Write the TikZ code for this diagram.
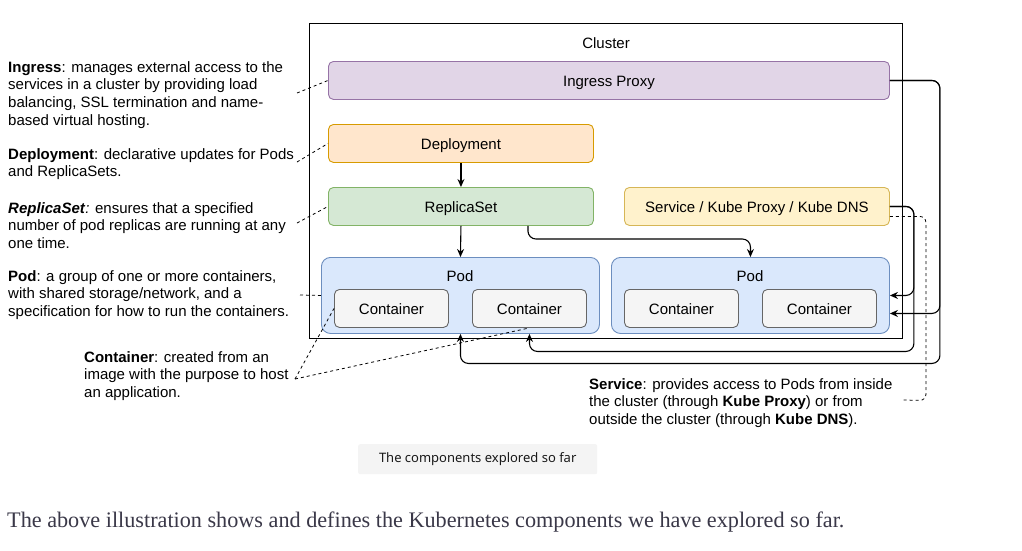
\documentclass[tikz,border=0pt]{standalone}
\usepackage{fontspec}
\setmainfont{Liberation Sans}
\newfontfamily\capfont{Noto Sans}
\newfontfamily\bodyfont{Liberation Serif}
\usetikzlibrary{arrows.meta,calc}
\definecolor{ingF}{HTML}{E1D5E7}\definecolor{ingS}{HTML}{9673A6}
\definecolor{depF}{HTML}{FFE6CC}\definecolor{depS}{HTML}{D79B00}
\definecolor{rsF}{HTML}{D5E8D4}\definecolor{rsS}{HTML}{82B366}
\definecolor{svF}{HTML}{FFF2CC}\definecolor{svS}{HTML}{D6B656}
\definecolor{podF}{HTML}{DAE8FC}\definecolor{podS}{HTML}{6C8EBF}
\definecolor{ctF}{HTML}{F5F5F5}\definecolor{ctS}{HTML}{666666}
\definecolor{capF}{HTML}{F4F4F4}
\definecolor{bodyC}{HTML}{3A3848}
\begin{document}
\begin{tikzpicture}[x=1pt,y=-1pt,
  box/.style={draw, rounded corners=5pt, line width=0.9pt, inner sep=0pt, anchor=north west,
    text height=12pt, text depth=0pt, font=\fontsize{15}{18}\selectfont},
  ctbox/.style={box, fill=ctF, draw=ctS, minimum width=114pt, minimum height=38pt},
  lbl/.style={inner sep=0pt, text height=12pt, text depth=0pt, font=\fontsize{15}{18}\selectfont},
  note/.style={inner sep=0pt, anchor=north west, align=left, font=\fontsize{15}{17.7}\selectfont},
  arr/.style={draw, line width=1.1pt, rounded corners=8pt, -{Stealth[length=8pt,width=7pt]}},
  dsh/.style={draw, line width=0.8pt, dash pattern=on 3pt off 3pt},
]
\useasboundingbox[fill=white] (0,0) rectangle (1022,550);

% cluster
\node[draw, line width=1.1pt, inner sep=0pt, anchor=north west, minimum width=593pt, minimum height=315pt] (cluster) at (309,23) {};
\node[lbl] (clusterlbl) at (606,42) {Cluster};

% boxes
\node[box, fill=ingF, draw=ingS, minimum width=561pt, minimum height=38pt] (ing) at (328,61) {Ingress Proxy};
\node[box, fill=depF, draw=depS, minimum width=265pt, minimum height=38pt] (dep) at (328,124) {Deployment};
\node[box, fill=rsF, draw=rsS, minimum width=265pt, minimum height=38pt] (rs) at (328,187) {ReplicaSet};
\node[box, fill=svF, draw=svS, minimum width=265pt, minimum height=38pt] (svc) at (624,187) {Service / Kube Proxy / Kube DNS};

\node[box, rounded corners=9pt, fill=podF, draw=podS, minimum width=278pt, minimum height=76pt] (pod1) at (321,257) {};
\node[box, rounded corners=9pt, fill=podF, draw=podS, minimum width=278pt, minimum height=76pt] (pod2) at (611,257) {};
\node[lbl] (pod1lbl) at (460,275) {Pod};
\node[lbl] (pod2lbl) at (750,275) {Pod};
\node[ctbox] (c1) at (334,289) {Container};
\node[ctbox] (c2) at (472,289) {Container};
\node[ctbox] (c3) at (624,289) {Container};
\node[ctbox] (c4) at (762,289) {Container};

% arrows
\draw[arr] (dep.south) -- (rs.north);
\draw[arr] (rs.south) -- (pod1.north);
\draw[arr] ([xshift=67pt]rs.south) |- ([yshift=18pt]pod2.north) -- (pod2.north);
\draw[arr] (ing.east) -- ++(50,0) |- ([yshift=-18pt]pod2.east);
\draw[arr] (ing.east) -- ++(50,0) -- ++(0,283) -| (pod1.south);
\draw[arr] (svc.east) -- ++(24,0) |- (pod2.east);
\draw[arr] (svc.east) -- ++(24,0) -- ++(0,145) -| ([xshift=69pt]pod1.south);

% notes
\node[note] (ingtxt) at (8,61) {\textbf{Ingress}: manages external access to the\\services in a cluster by providing load\\balancing, SSL termination and name-\\based virtual hosting.};
\node[note] (deptxt) at (8,148) {\textbf{Deployment}: declarative updates for Pods\\and ReplicaSets.};
\node[note] (rstxt) at (8,202) {\textbf{\textit{ReplicaSet}}\textit{:} ensures that a specified\\number of pod replicas are running at any\\one time.};
\node[note] (podtxt) at (8,270) {\textbf{Pod}: a group of one or more containers,\\with shared storage/network, and a\\specification for how to run the containers.};
\node[note] (cttxt) at (84,351) {\textbf{Container}: created from an\\image with the purpose to host\\an application.};
\node[note] (svtxt) at (589,378) {\textbf{Service}: provides access to Pods from inside\\the cluster (through \textbf{Kube Proxy}) or from\\outside the cluster (through \textbf{Kube DNS}).};

% dashed annotation lines
\coordinate (ingE) at (297,93);
\coordinate (depE) at (297,162);
\coordinate (rsE) at (297,223);
\coordinate (podE) at (300,295);
\coordinate (ctE) at (295,379);
\coordinate (svE) at (903,400);
\draw[dsh] (ingE) -- (ing.west);
\draw[dsh] (depE) -- (dep.west);
\draw[dsh] (rsE) -- (rs.west);
\draw[dsh] (podE) -- (pod1.west);
\draw[dsh] (ctE) -- (c1.west);
\draw[dsh] (ctE) -- (c2.south);
\draw[dsh, rounded corners=6pt] ([yshift=-10pt]svc.east) -- ++(36,0) -- ++(0,184) -- (svE);

% caption
\node[fill=capF, rounded corners=2pt, inner sep=0pt, minimum width=239pt, minimum height=30pt, anchor=north west,
  font=\capfont\fontsize{13}{15}\selectfont, text=black!90] (cap) at (358,444) {The components explored so far};

\node[inner sep=0pt, anchor=base west, text=bodyC, font=\bodyfont\fontsize{22.2}{26}\selectfont] (body) at (7,527)
  {The above illustration shows and defines the Kubernetes components we have explored so far.};
\end{tikzpicture}
\end{document}
